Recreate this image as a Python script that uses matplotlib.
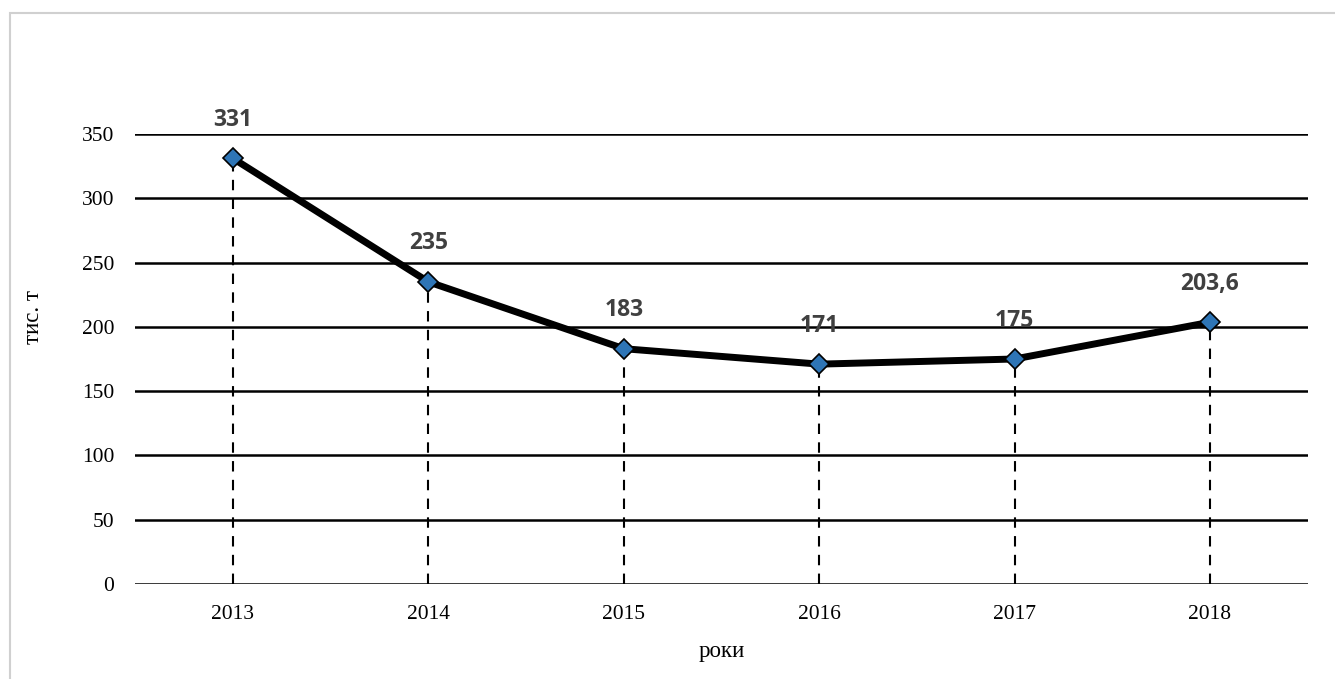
import matplotlib
matplotlib.use("Agg")
import matplotlib.pyplot as plt
from matplotlib.patches import Rectangle

years = ["2013", "2014", "2015", "2016", "2017", "2018"]
values = [331, 235, 183, 171, 175, 203.6]
labels = ["331", "235", "183", "171", "175", "203,6"]
yticks = [0, 50, 100, 150, 200, 250, 300, 350]

fig = plt.figure(figsize=(13.35, 6.79), dpi=100)
fig.patch.set_facecolor("white")

# light border of the chart area
fig.patches.append(Rectangle((10 / 1335, -0.1), 1.2, 1 - 13 / 679 + 0.1,
                             transform=fig.transFigure, fill=False,
                             edgecolor="#d0d0d0", linewidth=1.5, zorder=1))

ax = fig.add_axes([135.3 / 1335, 1 - 584 / 679, (1307.7 - 135.3) / 1335, (584 - 134) / 679])
ax.set_facecolor("none")
x = list(range(len(years)))
ax.set_xlim(-0.5, len(years) - 0.5)
ax.set_ylim(0, 350)
ax.set_yticks(yticks)
ax.set_xticks(x)
ax.set_xticklabels(years)
for t in yticks:
    ax.axhline(t, color="black", linewidth=1.8, zorder=1)
for xi, v in zip(x, values):
    ax.plot([xi, xi], [0, v], color="black", linewidth=1.5, linestyle=(0, (5, 4)), zorder=2)
ax.plot(x, values, color="black", linewidth=5, zorder=3, solid_capstyle="round")
ax.plot(x, values, linestyle="none", marker="D", markersize=10,
        markerfacecolor="#2E75B6", markeredgecolor="black", markeredgewidth=1.2, zorder=4)
for xi, v, lb in zip(x, values, labels):
    ax.annotate(lb, (xi, v), xytext=(0, 19), textcoords="offset points",
                ha="center", va="bottom", fontsize=16.5, fontweight="bold",
                color="#404040", family="Open Sans", zorder=5)
for s in ax.spines.values():
    s.set_visible(False)
ax.tick_params(length=0, labelsize=15.5)
for lbl in ax.get_xticklabels() + ax.get_yticklabels():
    lbl.set_family("Liberation Serif")
ax.tick_params(axis="x", pad=15)
ax.tick_params(axis="y", pad=15)
ax.set_xlabel("роки", family="Liberation Serif", fontsize=16.5, labelpad=12)
ax.set_ylabel("тис. т", family="Liberation Serif", fontsize=16.5)
ax.yaxis.set_label_coords(-0.078, 0.593)

fig.savefig("out.png", dpi=100, facecolor="white")
